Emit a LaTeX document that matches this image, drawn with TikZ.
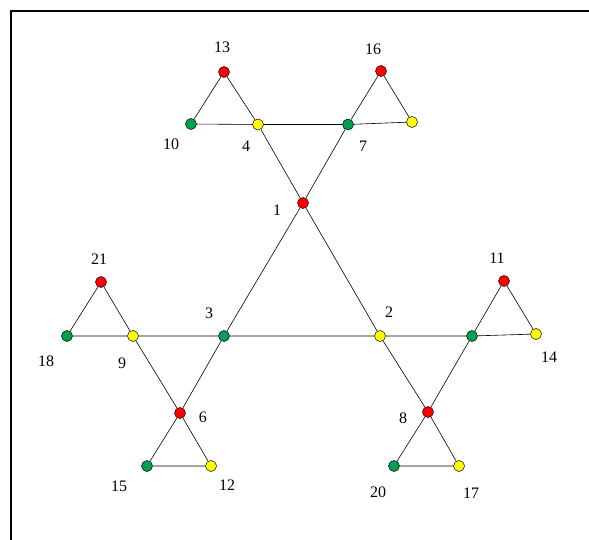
\documentclass[tikz,border=0pt]{standalone}
\usepackage{fontspec}
\setmainfont{Liberation Serif}
\usetikzlibrary{positioning}
\definecolor{vred}{RGB}{255,0,0}
\definecolor{vgreen}{RGB}{0,160,80}
\definecolor{vyellow}{RGB}{255,255,0}

\begin{document}
\begin{tikzpicture}[x=1pt, y=-1pt,
    vtx/.style={circle, draw=black, line width=0.5pt, inner sep=0pt, minimum size=11pt},
    rv/.style={vtx, fill=vred},
    gv/.style={vtx, fill=vgreen},
    yv/.style={vtx, fill=vyellow},
    lbl/.style={inner sep=0pt, font=\fontsize{16}{19}\selectfont},
    edge/.style={line width=0.6pt}]
  \useasboundingbox (0,0) rectangle (589,540);
  % frame
  \draw[line width=1.2pt] (11,540) -- (11,11) -- (589,11);
  % centre triangle and the top group
  \node[rv] (n1)  at (303,203) {};
  \node[yv] (n4)  at (258,124.5) {};
  \node[gv] (n7)  at (348,124.5) {};
  \node[gv] (n10) at (191,124) {};
  \node[rv] (n13) at (224,72)  {};
  \node[rv] (n16) at (381,71)  {};
  \node[yv] (n19) at (412,122) {};
  % left group
  \node[gv] (n3)  at (224,336) {};
  \node[yv] (n9)  at (133,336) {};
  \node[rv] (n6)  at (180,413) {};
  \node[gv] (n18) at (67,336)  {};
  \node[rv] (n21) at (101,282) {};
  \node[gv] (n15) at (147,466) {};
  \node[yv] (n12) at (211,466) {};
  % right group
  \node[yv] (n2)  at (380,336) {};
  \node[gv] (n5)  at (472,336) {};
  \node[rv] (n8)  at (428,412) {};
  \node[rv] (n11) at (504,281) {};
  \node[yv] (n14) at (536,334) {};
  \node[gv] (n20) at (394,466) {};
  \node[yv] (n17) at (459,466) {};

  \draw[edge] (n1) -- (n2) -- (n3) -- (n1);
  \draw[edge] (n1) -- (n4) -- (n7) -- (n1);
  \draw[edge] (n4) -- (n10) -- (n13) -- (n4);
  \draw[edge] (n7) -- (n16) -- (n19) -- (n7);
  \draw[edge] (n3) -- (n9) -- (n6) -- (n3);
  \draw[edge] (n9) -- (n18) -- (n21) -- (n9);
  \draw[edge] (n6) -- (n15) -- (n12) -- (n6);
  \draw[edge] (n2) -- (n5) -- (n8) -- (n2);
  \draw[edge] (n5) -- (n11) -- (n14) -- (n5);
  \draw[edge] (n8) -- (n20) -- (n17) -- (n8);

  \node[lbl, left=16pt of n1, yshift=-7pt] {1};
  \node[lbl, below=11pt of n4, xshift=-12pt] {4};
  \node[lbl, below=11pt of n7, xshift=15pt] {7};
  \node[lbl, below=9pt of n10, xshift=-20pt] {10};
  \node[lbl, above=13pt of n13, xshift=-2pt] {13};
  \node[lbl, above=10pt of n16, xshift=-8pt] {16};
  \node[lbl, above=11pt of n3, xshift=-15pt] {3};
  \node[lbl, below=16pt of n9, xshift=-11pt] {9};
  \node[lbl, right=13pt of n6, yshift=-4pt] {6};
  \node[lbl, below=14pt of n18, xshift=-21pt] {18};
  \node[lbl, above=12pt of n21, xshift=-2pt] {21};
  \node[lbl, below=9pt of n15, xshift=-28pt] {15};
  \node[lbl, below=8pt of n12, xshift=16pt] {12};
  \node[lbl, above=13pt of n2, xshift=9pt] {2};
  \node[lbl, left=15pt of n8, yshift=-6pt] {8};
  \node[lbl, above=12pt of n11, xshift=-7pt] {11};
  \node[lbl, below=12pt of n14, xshift=13pt] {14};
  \node[lbl, below=15pt of n20, xshift=-16pt] {20};
  \node[lbl, below=16pt of n17, xshift=12pt] {17};
\end{tikzpicture}
\end{document}
